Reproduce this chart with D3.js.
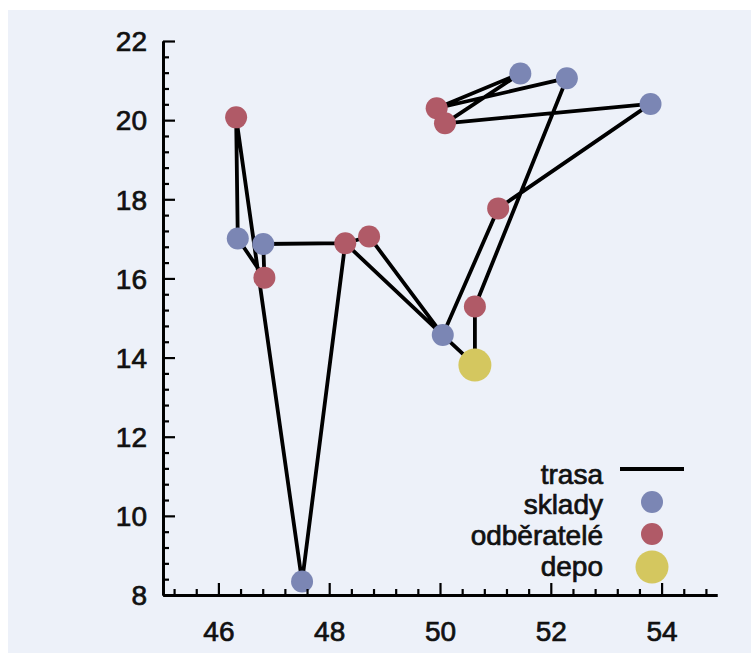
<!DOCTYPE html>
<html><head><meta charset="utf-8">
<script src="https://cdn.jsdelivr.net/npm/d3@7"></script>
<style>html,body{margin:0;padding:0;background:#fff;}svg{display:block;}</style>
</head><body>
<script>
// route (trasa), in visiting order
const trasaX = [50.63, 50.63, 52.29, 49.94, 51.45, 50.09, 53.80, 51.05, 50.05, 48.72, 48.29, 46.81, 46.83, 46.35, 46.32, 47.51, 48.29, 50.05, 50.63];
const trasaY = [13.81, 15.29, 21.06, 20.30, 21.18, 19.92, 20.41, 17.77, 14.57, 17.06, 16.89, 16.87, 16.02, 17.01, 20.07, 8.34, 16.89, 14.57, 13.81];
// warehouses (sklady)
const skladyX = [50.05, 51.45, 52.29, 53.80, 47.51, 46.81, 46.35];
const skladyY = [14.57, 21.18, 21.06, 20.41, 8.34, 16.87, 17.01];
// customers (odběratelé)
const odberateleX = [50.63, 49.94, 50.09, 51.05, 48.29, 48.72, 46.83, 46.32];
const odberateleY = [15.29, 20.30, 19.92, 17.77, 16.89, 17.06, 16.02, 20.07];
// depot
const depoX = [50.63];
const depoY = [13.81];
// ticks
const xTicks = [46, 48, 50, 52, 54];
const yTicks = [8, 10, 12, 14, 16, 18, 20, 22];
const legendLabels = ["trasa", "sklady", "odběratelé", "depo"];

const W = 751, H = 653;
const C = {bg: "#edf1f9", sklady: "#7b86b4", odb: "#b05a67", depo: "#d4c75f"};
const font = "'Liberation Sans', Arial, sans-serif";

const svg = d3.select("body").append("svg").attr("width", W).attr("height", H);
svg.append("rect").attr("x", 8).attr("y", 10).attr("width", W - 8).attr("height", H - 10).attr("fill", C.bg);

const x = d3.scaleLinear().domain([45, 55]).range([163, 717]);
const y = d3.scaleLinear().domain([8, 22]).range([595, 41]);

const minorX = d3.range(45.2, 55, 0.4).map(v => +v.toFixed(1)).filter(v => !xTicks.some(t => Math.abs(t - v) < 1e-6));
const minorY = d3.range(8.4, 22, 0.4).map(v => +v.toFixed(1)).filter(v => !yTicks.some(t => Math.abs(t - v) < 1e-6));

// route line
const pts = trasaX.map((v, i) => [v, trasaY[i]]);
svg.append("path").datum(pts)
  .attr("d", d3.line().x(d => x(d[0])).y(d => y(d[1])))
  .attr("fill", "none").attr("stroke", "#000").attr("stroke-width", 3.8).attr("stroke-linejoin", "round");

// points
const gp = svg.append("g");
gp.selectAll(".s").data(skladyX.map((v, i) => [v, skladyY[i]])).join("circle")
  .attr("cx", d => x(d[0])).attr("cy", d => y(d[1])).attr("r", 11).attr("fill", C.sklady);
gp.selectAll(".o").data(odberateleX.map((v, i) => [v, odberateleY[i]])).join("circle")
  .attr("cx", d => x(d[0])).attr("cy", d => y(d[1])).attr("r", 11).attr("fill", C.odb);
gp.selectAll(".d").data(depoX.map((v, i) => [v, depoY[i]])).join("circle")
  .attr("cx", d => x(d[0])).attr("cy", d => y(d[1])).attr("r", 16.5).attr("fill", C.depo);

// axes
function styleAxis(g) {
  g.select(".domain").attr("stroke", "#000").attr("stroke-width", 2.8);
  g.selectAll(".tick line").attr("stroke", "#000").attr("stroke-width", 2.2);
}
function styleText(sel) {
  sel.attr("font-size", 28).attr("font-family", font).attr("fill", "#111")
     .attr("stroke", "#111").attr("stroke-width", 0.7);
}
const gx = svg.append("g").attr("transform", `translate(0,${y(8)})`)
  .call(d3.axisBottom(x).tickValues(xTicks).tickSizeInner(-12).tickSizeOuter(0).tickPadding(0).tickFormat(d3.format("d")));
styleAxis(gx);
gx.selectAll(".tick text").attr("y", 36).attr("dy", "0.35em").call(styleText);
const gxm = svg.append("g").attr("transform", `translate(0,${y(8)})`)
  .call(d3.axisBottom(x).tickValues(minorX).tickSizeInner(-6).tickSizeOuter(0).tickFormat(""));
styleAxis(gxm);

const gy = svg.append("g").attr("transform", `translate(${x(45)},0)`)
  .call(d3.axisLeft(y).tickValues(yTicks).tickSizeInner(-12).tickSizeOuter(0).tickPadding(0).tickFormat(d3.format("d")));
styleAxis(gy);
gy.selectAll(".tick text").attr("x", -16).attr("dy", "0.35em").call(styleText);
const gym = svg.append("g").attr("transform", `translate(${x(45)},0)`)
  .call(d3.axisLeft(y).tickValues(minorY).tickSizeInner(-6).tickSizeOuter(0).tickFormat(""));
styleAxis(gym);

// legend
const lg = svg.append("g");
const rowY = [474, 504, 535, 566];
lg.selectAll("text").data(legendLabels).join("text")
  .attr("x", 603).attr("y", (d, i) => rowY[i]).attr("dy", "0.35em")
  .attr("text-anchor", "end").call(styleText)
  .text(d => d);
lg.append("line").attr("x1", 620).attr("x2", 684).attr("y1", 469).attr("y2", 469).attr("stroke", "#000").attr("stroke-width", 3.8);
lg.append("circle").attr("cx", 652).attr("cy", 502).attr("r", 11).attr("fill", C.sklady);
lg.append("circle").attr("cx", 652).attr("cy", 534).attr("r", 11).attr("fill", C.odb);
lg.append("circle").attr("cx", 652).attr("cy", 567).attr("r", 16.5).attr("fill", C.depo);
</script>
</body></html>
